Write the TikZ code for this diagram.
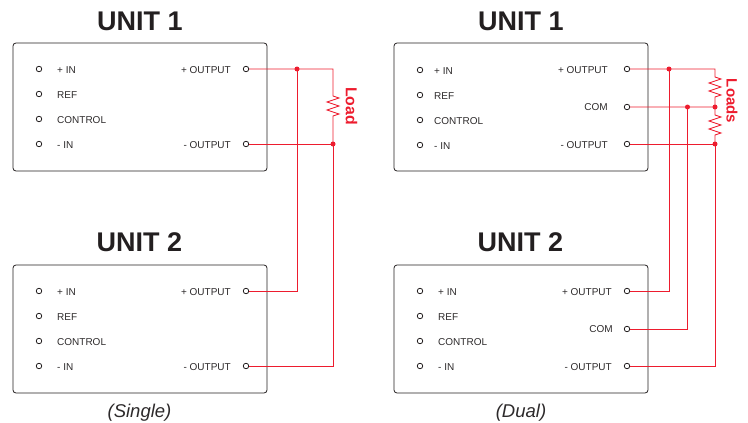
\documentclass[tikz,border=0pt]{standalone}
\usepackage{fontspec}
\setmainfont{Liberation Sans}
\definecolor{wirered}{RGB}{237,28,46}
\definecolor{boxline}{RGB}{35,31,32}
\definecolor{labelgray}{RGB}{45,42,43}
\tikzset{
  x=1pt,y=-1pt,
  unitbox/.style={draw=boxline,line width=0.8pt,rounded corners=3pt},
  pin/.style={circle,draw=boxline,line width=0.8pt,fill=white,inner sep=0pt,minimum size=5.5pt},
  lab/.style={font=\fontsize{10}{12}\selectfont,text=labelgray,inner sep=0pt,anchor=west},
  labr/.style={font=\fontsize{10}{12}\selectfont,text=labelgray,inner sep=0pt,anchor=east,yshift=-0.5pt},
  unittitle/.style={font=\fontsize{27}{30}\selectfont\bfseries,text=boxline,inner sep=0pt},
  caption/.style={font=\fontsize{18.5}{20}\selectfont\itshape,text=labelgray,inner sep=0pt},
  loadlab/.style={font=\bfseries,text=wirered,inner sep=0pt,rotate=-90},
  wire/.style={draw=wirered,line width=0.8pt},
  jdot/.style={circle,fill=wirered,inner sep=0pt,minimum size=5pt},
}
\newcommand{\zig}{-- ++(0,2) -- ++(6,2) -- ++(-12,4) -- ++(12,4) -- ++(-12,4) -- ++(12,4) -- ++(-6,2) -- ++(0,2)}
\begin{document}
\begin{tikzpicture}
\useasboundingbox (0,0) rectangle (748,423);
% boxes
\node[unitbox,minimum width=254pt,minimum height=128pt,inner sep=0pt] (boxA) at (140,107) {};
\node[unitbox,minimum width=254pt,minimum height=128pt,inner sep=0pt] (boxB) at (140,329) {};
\node[unitbox,minimum width=254pt,minimum height=128pt,inner sep=0pt] (boxC) at (521,107) {};
\node[unitbox,minimum width=254pt,minimum height=128pt,inner sep=0pt] (boxD) at (521,329) {};
% titles
\node[unittitle] (tA) at (140,21) {UNIT 1};
\node[unittitle] (tB) at (139.5,242) {UNIT 2};
\node[unittitle] (tC) at (521,21) {UNIT 1};
\node[unittitle] (tD) at (520.5,242) {UNIT 2};
\node[caption] (capL) at (139.5,413) {(Single)};
\node[caption] (capR) at (521,413) {(Dual)};
% wire junction coordinates
\coordinate (ja) at (297,69);
\coordinate (jb) at (333,144);
\coordinate (ra1) at (333,69);
\coordinate (ja2) at (297,291);
\coordinate (jb2) at (333,366);
\coordinate (jc) at (669,69);
\coordinate (jd) at (687.5,107);
\coordinate (je) at (715,107);
\coordinate (jf) at (715,144);
\coordinate (rc1) at (715,69);
\coordinate (jc2) at (669,291);
\coordinate (jd2) at (687.5,329);
\coordinate (jf2) at (715,366);
% left group pins
\foreach \n/\y/\t in {a/69/+ IN,b/94/REF,c/119/CONTROL,d/144/- IN}{
  \node[pin] (A\n) at (39,\y) {};
  \node[lab] (Al\n) at (57,\y+1) {\t};
}
\foreach \n/\y/\t in {a/291/+ IN,b/316/REF,c/341/CONTROL,d/366/- IN}{
  \node[pin] (B\n) at (39,\y) {};
  \node[lab] (Bl\n) at (57,\y+1) {\t};
}
\foreach \n/\y/\t in {a/70/+ IN,b/95/REF,c/120/CONTROL,d/145/- IN}{
  \node[pin] (C\n) at (420,\y) {};
  \node[lab] (Cl\n) at (434,\y+1) {\t};
}
\foreach \n/\y/\t in {a/291/+ IN,b/316/REF,c/341/CONTROL,d/366/- IN}{
  \node[pin] (D\n) at (420,\y) {};
  \node[lab] (Dl\n) at (438,\y+1) {\t};
}
% output pins
\node[pin] (Ap) at (246,69) {};
\node[pin] (Am) at (246,144) {};
\node[pin] (Bp) at (246,291) {};
\node[pin] (Bm) at (246,366) {};
\node[pin] (Cp) at (627,69) {};
\node[pin] (Cc) at (627,107) {};
\node[pin] (Cm) at (627,144) {};
\node[pin] (Dp) at (627,291) {};
\node[pin] (Dc) at (627,329) {};
\node[pin] (Dm) at (627,366) {};
\node[labr] (Apl) at (231,70) {+ OUTPUT};
\node[labr] (Aml) at (231,145) {- OUTPUT};
\node[labr] (Bpl) at (231,292) {+ OUTPUT};
\node[labr] (Bml) at (231,367) {- OUTPUT};
\node[labr] (Cpl) at (608,70) {+ OUTPUT};
\node[labr] (Ccl) at (608,107) {COM};
\node[labr] (Cml) at (608,145) {- OUTPUT};
\node[labr] (Dpl) at (612,292) {+ OUTPUT};
\node[labr] (Dcl) at (613,329) {COM};
\node[labr] (Dml) at (612,367) {- OUTPUT};
% wires left
\draw[wire] (Ap) -- (ja) -- (ra1) -- (333,94) \zig -- (jb);
\draw[wire] (Am) -- (jb) -- (jb2) -- (Bm);
\draw[wire] (Bp) -- (ja2) -- (ja);
% wires right
\draw[wire] (Cp) -- (jc) -- (rc1) -- (715,75) \zig -- (je);
\draw[wire] (Cc) -- (jd) -- (je) -- (715,113) \zig -- (jf);
\draw[wire] (Cm) -- (jf) -- (jf2) -- (Dm);
\draw[wire] (Dp) -- (jc2) -- (jc);
\draw[wire] (Dc) -- (jd2) -- (jd);
% junctions
\foreach \j in {ja,jb,jc,jd,je,jf}{\node[jdot] at (\j) {};}
% load labels
\node[loadlab,font=\fontsize{15.8}{18}\selectfont\bfseries] (load) at (351.5,106) {Load};
\node[loadlab,font=\fontsize{15}{18}\selectfont\bfseries] (loads) at (732,101) {Loads};
\end{tikzpicture}
\end{document}
